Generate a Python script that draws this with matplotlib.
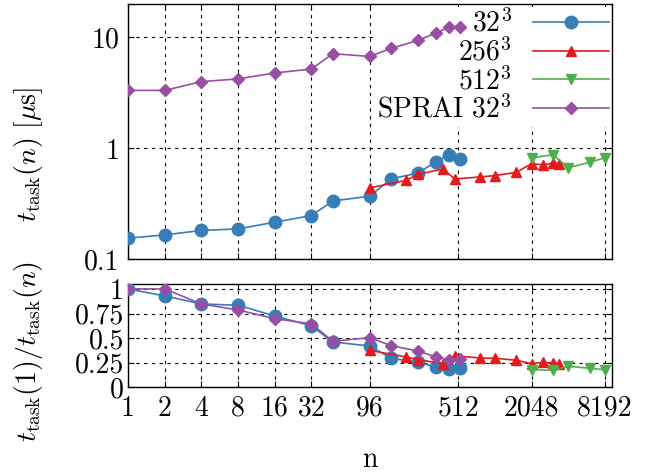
import matplotlib
matplotlib.use("Agg")
import matplotlib.pyplot as plt

plt.rcParams['font.family'] = ['cmr10', 'DejaVu Serif']
plt.rcParams['mathtext.fontset'] = 'cm'
plt.rcParams['axes.formatter.use_mathtext'] = True
plt.rcParams['axes.unicode_minus'] = False

# ---- data ----
n_32 = [1, 2, 4, 8, 16, 32, 48, 96, 144, 240, 336, 432, 528]
t_32 = [0.155, 0.166, 0.182, 0.188, 0.216, 0.248, 0.336, 0.37, 0.53, 0.60, 0.759, 0.873, 0.803]
r_32 = [1.0, 0.929, 0.847, 0.834, 0.725, 0.624, 0.461, 0.42, 0.295, 0.254, 0.206, 0.186, 0.2]

n_256 = [96, 192, 240, 384, 480, 768, 1024, 1536, 2048, 2560, 3072, 3456]
t_256 = [0.44, 0.515, 0.583, 0.652, 0.53, 0.552, 0.568, 0.608, 0.728, 0.709, 0.739, 0.718]
r_256 = [0.376, 0.308, 0.281, 0.24, 0.321, 0.298, 0.295, 0.275, 0.24, 0.254, 0.247, 0.24]

n_512 = [2048, 3072, 4096, 6144, 8192]
t_512 = [0.824, 0.873, 0.67, 0.748, 0.824]
r_512 = [0.179, 0.173, 0.214, 0.193, 0.179]

n_sprai = [1, 2, 4, 8, 16, 32, 48, 96, 144, 240, 336, 432, 528]
t_sprai = [3.33, 3.33, 3.99, 4.23, 4.78, 5.19, 7.13, 6.74, 7.96, 9.4, 10.96, 12.4, 12.4]
r_sprai = [1.0, 1.0, 0.847, 0.786, 0.698, 0.644, 0.468, 0.505, 0.423, 0.369, 0.308, 0.281, 0.288]

labels = [r'$32^3$', r'$256^3$', r'$512^3$', r'SPRAI $32^3$']
colors = ['#377eb8', '#e41a1c', '#4daf4a', '#984ea3']
markers = ['o', '^', 'v', 'D']
msizes = [9, 7.5, 7.5, 6]

xticks = [1, 2, 4, 8, 16, 32, 96, 512, 2048, 8192]
xticklabels = ['1', '2', '4', '8', '16', '32', '96', '512', '2048', '8192']
yticks_top = [0.1, 1, 10]
yticklabels_top = ['0.1', '1', '10']
yticks_bot = [0, 0.25, 0.5, 0.75, 1]
yticklabels_bot = ['0', '0.25', '0.5', '0.75', '1']

W, H = 657, 475
fig = plt.figure(figsize=(W / 100, H / 100), dpi=100)
L, R = 128 / W, 611.7 / W
ax1 = fig.add_axes([L, 1 - 259.3 / H, R - L, (259.3 - 4) / H])
ax2 = fig.add_axes([L, 1 - 387.3 / H, R - L, (387.3 - 284) / H])

xs = [n_32, n_256, n_512, n_sprai]
ts = [t_32, t_256, t_512, t_sprai]
rs = [r_32, r_256, r_512, r_sprai]

fs = 20
for x, t, r, lab, c, m, ms in zip(xs, ts, rs, labels, colors, markers, msizes):
    ax1.plot(x, t, color=c, marker=m, ms=ms, lw=1.2, label=lab, zorder=3)
    ax2.plot(x, r, color=c, marker=m, ms=ms, lw=1.2, zorder=3)

for ax in (ax1, ax2):
    ax.set_xscale('log', base=2)
    ax.set_xlim(1, 9300)
    ax.set_xticks(xticks)
    ax.minorticks_off()
    ax.grid(True, color='black', linestyle=(0, (3, 4)), linewidth=0.8)
    ax.set_axisbelow(True)
    ax.tick_params(direction='in', top=True, right=True, length=4, width=0.8,
                   labelsize=fs, pad=6)
    for s in ax.spines.values():
        s.set_linewidth(1.0)

ax1.set_yscale('log')
ax1.set_ylim(0.1, 20)
ax1.set_yticks(yticks_top)
ax1.set_yticklabels(yticklabels_top)
ax1.minorticks_off()
ax1.set_xticklabels([])

ax2.set_ylim(0, 1.05)
ax2.set_yticks(yticks_bot)
ax2.set_yticklabels(yticklabels_bot)
ax2.set_xticklabels(xticklabels)
ax2.tick_params(axis='y', pad=3)

ax1.set_ylabel(r'$t_{\rm task}(n)\ [\mu{\rm s}]$', fontsize=fs)
ax1.yaxis.set_label_coords(-0.172, 0.41)
ax2.set_ylabel(r'$t_{\rm task}(1)/t_{\rm task}(n)$', fontsize=fs)
ax2.yaxis.set_label_coords(-0.172, 0.35)
ax2.set_xlabel('n', fontsize=fs)
ax2.xaxis.set_label_coords(0.5, -0.57)

leg = ax1.legend(loc='upper right', bbox_to_anchor=(1.0, 0.99), markerfirst=False,
                 fontsize=fs, frameon=True, fancybox=False, framealpha=1,
                 edgecolor='none', facecolor='white', borderaxespad=0.0,
                 borderpad=0.1, labelspacing=0.0, handlelength=2.75,
                 handletextpad=0.75)
leg.set_zorder(2)

fig.savefig('out.png', dpi=100)
